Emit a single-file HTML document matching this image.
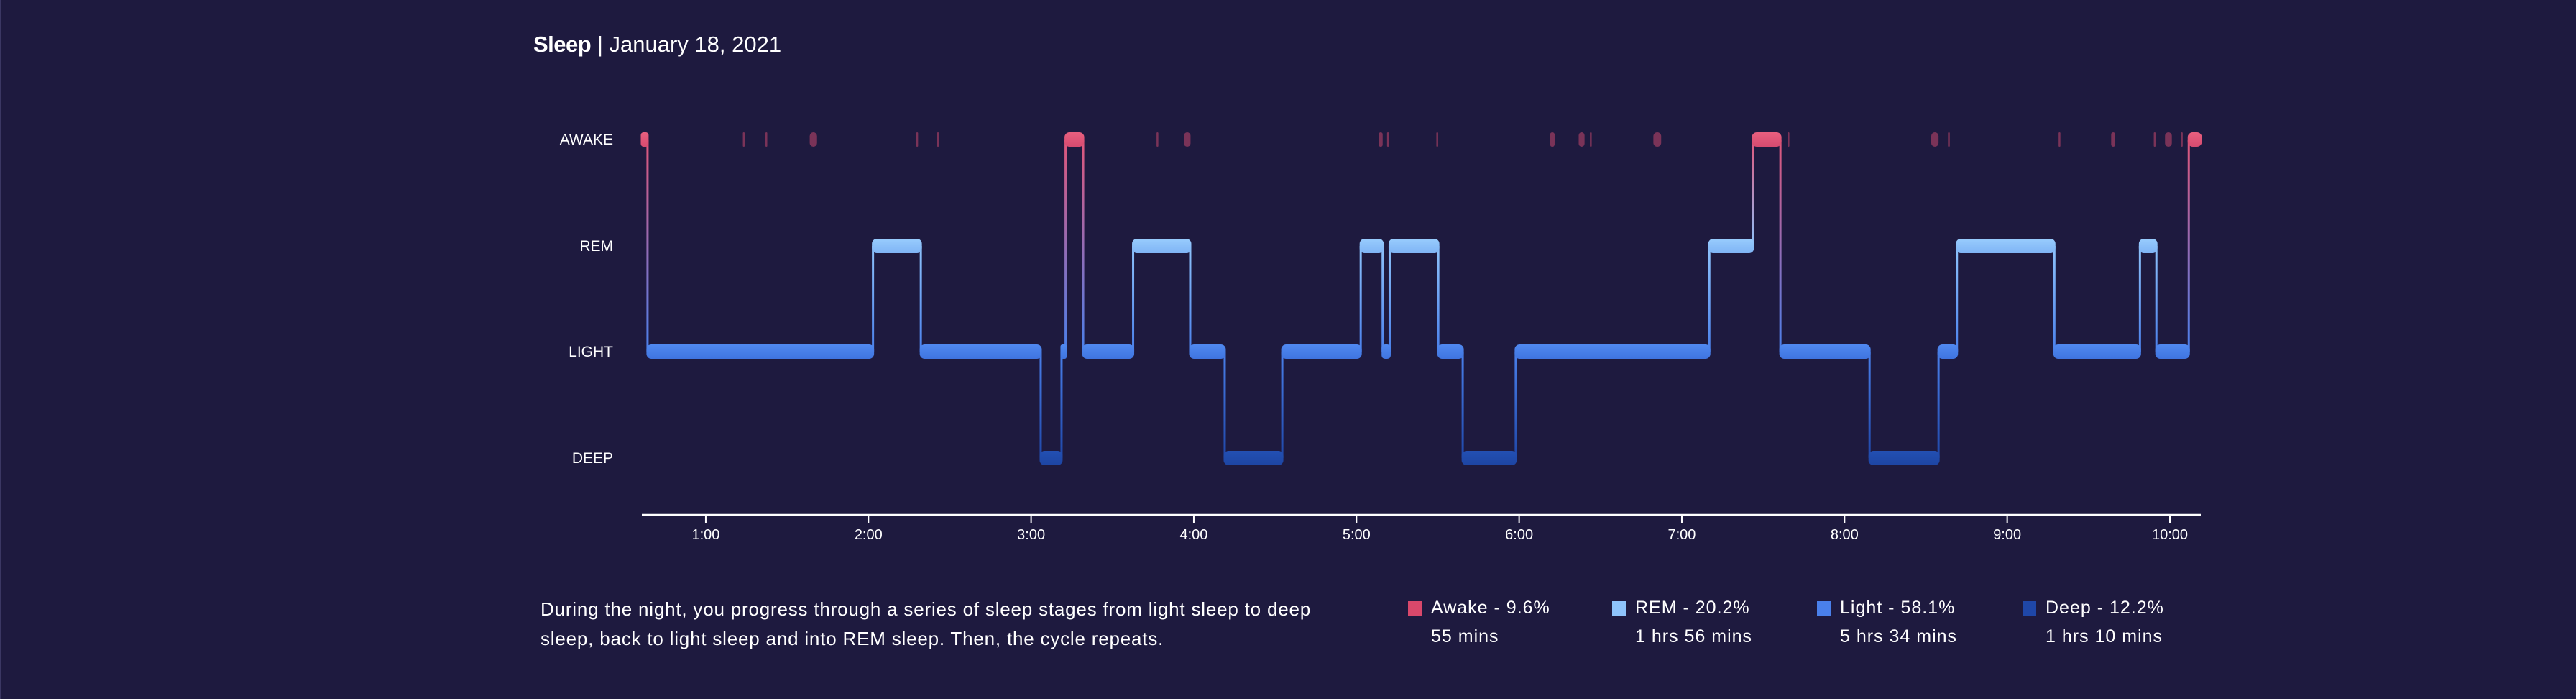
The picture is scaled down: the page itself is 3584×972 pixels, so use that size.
<!DOCTYPE html>
<html><head><meta charset="utf-8"><style>
html,body{margin:0;padding:0;background:#1e1a3f;}
body{width:3584px;height:972px;overflow:hidden;position:relative;font-family:"Liberation Sans",sans-serif;color:#fff;border-left:2px solid #3b3763;box-sizing:border-box;}
.t{position:absolute;white-space:nowrap;}
.lg{font-size:25px;letter-spacing:1px;}
</style></head><body>
<div class="t" style="left:740px;top:44px;font-size:31px;"><b style="letter-spacing:-0.5px">Sleep</b> | January 18, 2021</div>
<svg id="chart" width="3584" height="760" style="position:absolute;left:0;top:0" xmlns="http://www.w3.org/2000/svg">
<defs>
<linearGradient id="gAwake" x1="0" y1="0" x2="0" y2="1"><stop offset="0" stop-color="#e8607f"/><stop offset="1" stop-color="#d64a70"/></linearGradient>
<linearGradient id="gRem" x1="0" y1="0" x2="0" y2="1"><stop offset="0" stop-color="#98ccfd"/><stop offset="1" stop-color="#7fb4f5"/></linearGradient>
<linearGradient id="gLight" x1="0" y1="0" x2="0" y2="1"><stop offset="0" stop-color="#5089f0"/><stop offset="1" stop-color="#3f74e0"/></linearGradient>
<linearGradient id="gDeep" x1="0" y1="0" x2="0" y2="1"><stop offset="0" stop-color="#2350b3"/><stop offset="1" stop-color="#1d45a3"/></linearGradient>
</defs>
</svg>
<div class="t" style="left:750px;top:827px;font-size:26px;letter-spacing:0.8px;line-height:41px;">During the night, you progress through a series of sleep stages from light sleep to deep<br>sleep, back to light sleep and into REM sleep. Then, the cycle repeats.</div>
<div>
<div><div style="position:absolute;left:1957px;top:836px;width:19px;height:20px;background:#d9486b"></div><div class="t lg" style="left:1989px;top:831px;">Awake - 9.6%</div><div class="t lg" style="left:1989px;top:871px;">55 mins</div></div>
<div><div style="position:absolute;left:2241px;top:836px;width:19px;height:20px;background:#8ec3fb"></div><div class="t lg" style="left:2273px;top:831px;">REM - 20.2%</div><div class="t lg" style="left:2273px;top:871px;">1 hrs 56 mins</div></div>
<div><div style="position:absolute;left:2526px;top:836px;width:19px;height:20px;background:#4a80eb"></div><div class="t lg" style="left:2558px;top:831px;">Light - 58.1%</div><div class="t lg" style="left:2558px;top:871px;">5 hrs 34 mins</div></div>
<div><div style="position:absolute;left:2812px;top:836px;width:19px;height:20px;background:#1f47a8"></div><div class="t lg" style="left:2844px;top:831px;">Deep - 12.2%</div><div class="t lg" style="left:2844px;top:871px;">1 hrs 10 mins</div></div>
</div>
<script>
const stageNames = ["AWAKE","REM","LIGHT","DEEP"];
const segStart = [0.607,0.642,2.028,2.322,3.059,3.187,3.212,3.320,3.627,3.978,4.19,4.544,5.026,5.161,5.204,5.503,5.653,5.979,7.169,7.437,7.606,8.154,8.578,8.691,9.29,9.816,9.917,10.116];
const segEnd   = [0.642,2.028,2.322,3.059,3.187,3.212,3.320,3.627,3.978,4.19,4.544,5.026,5.161,5.204,5.503,5.653,5.979,7.169,7.437,7.606,8.154,8.578,8.691,9.29,9.816,9.917,10.116,10.19];
const segStage = ["AWAKE","LIGHT","REM","LIGHT","DEEP","LIGHT","AWAKE","LIGHT","REM","LIGHT","DEEP","LIGHT","REM","LIGHT","REM","LIGHT","DEEP","LIGHT","REM","AWAKE","LIGHT","DEEP","LIGHT","REM","LIGHT","REM","LIGHT","AWAKE"];
const briefStart = [1.228,1.367,1.639,2.294,2.422,3.771,3.939,5.137,5.188,5.491,6.190,6.366,6.435,6.825,7.650,8.533,8.636,9.316,9.639,9.901,9.970,10.068];
const briefEnd   = [1.232,1.372,1.684,2.298,2.426,3.775,3.980,5.161,5.193,5.496,6.218,6.402,6.440,6.873,7.655,8.578,8.641,9.321,9.664,9.905,10.012,10.072];
const tickLabels = ["1:00","2:00","3:00","4:00","5:00","6:00","7:00","8:00","9:00","10:00"];
const tickHours = [1,2,3,4,5,6,7,8,9,10];

const svg = document.getElementById('chart');
const NS = 'http://www.w3.org/2000/svg';
const xMin = 0.607, xMax = 10.19, pxMin = 891, pxMax = 3060;
const x = t => pxMin + (t - xMin) / (xMax - xMin) * (pxMax - pxMin);
const levelY = {AWAKE:184, REM:332, LIGHT:479, DEEP:627};
const y = s => levelY[s];
const fills = {AWAKE:'url(#gAwake)', REM:'url(#gRem)', LIGHT:'url(#gLight)', DEEP:'url(#gDeep)'};
const solid = {AWAKE:'#e0567a', REM:'#8ec3fb', LIGHT:'#4a80eb', DEEP:'#1f47a8'};
const BH = 20;
function mk(tag, attrs){const e=document.createElementNS(NS,tag);for(const k in attrs)e.setAttribute(k,attrs[k]);svg.appendChild(e);return e;}

stageNames.forEach(s=>{
  const t = mk('text',{x:851,y:y(s)+17,'text-anchor':'end','font-size':21,fill:'#fff','font-family':'Liberation Sans, sans-serif'});
  
  
  t.textContent = s;
});

for(let i=0;i<segStart.length-1;i++){
  const a=segStage[i], b=segStage[i+1];
  const xx=x(segEnd[i]);
  const y1=Math.min(y(a),y(b))+BH/2, y2=Math.max(y(a),y(b))+BH/2;
  const gid='tg'+i;
  const g=mk('linearGradient',{id:gid,x1:0,y1:0,x2:0,y2:1,gradientUnits:'objectBoundingBox'});
  const top = y(a)<y(b)?a:b, bot = y(a)<y(b)?b:a;
  const s1=document.createElementNS(NS,'stop');s1.setAttribute('offset','0');s1.setAttribute('stop-color',solid[top]);g.appendChild(s1);
  const s2=document.createElementNS(NS,'stop');s2.setAttribute('offset','1');s2.setAttribute('stop-color',solid[bot]);g.appendChild(s2);
  const r=mk('rect',{x:xx-1.5,y:y1,width:3,height:y2-y1,fill:'url(#'+gid+')'});
  
  
}
for(let i=0;i<briefStart.length;i++){
  const x1=x(briefStart[i]), w=Math.max(2.5,x(briefEnd[i])-x1);
  const r=mk('rect',{x:x1,y:y('AWAKE'),width:w,height:BH,rx:Math.min(w/2,6),fill:'#7a3358'});
  
  
}
for(let i=0;i<segStart.length;i++){
  const s=segStage[i];
  const x1=x(segStart[i]), w=Math.max(3,x(segEnd[i])-x1);
  const r=mk('rect',{x:x1-1.5,y:y(s),width:w+3,height:BH,rx:Math.min(7,w/2),fill:fills[s]});
  
  
}
const ax=mk('line',{x1:pxMin,x2:pxMax,y1:716,y2:716,stroke:'#fff','stroke-width':2.5});


tickHours.forEach((h,i)=>{
  const tk=mk('line',{x1:x(h),x2:x(h),y1:716,y2:727,stroke:'#fff','stroke-width':2});
  
  
  const tl=mk('text',{x:x(h),y:750,'text-anchor':'middle','font-size':20,fill:'#fff','font-family':'Liberation Sans, sans-serif'});
  
  
  tl.textContent=tickLabels[i];
});
</script>
</body></html>
